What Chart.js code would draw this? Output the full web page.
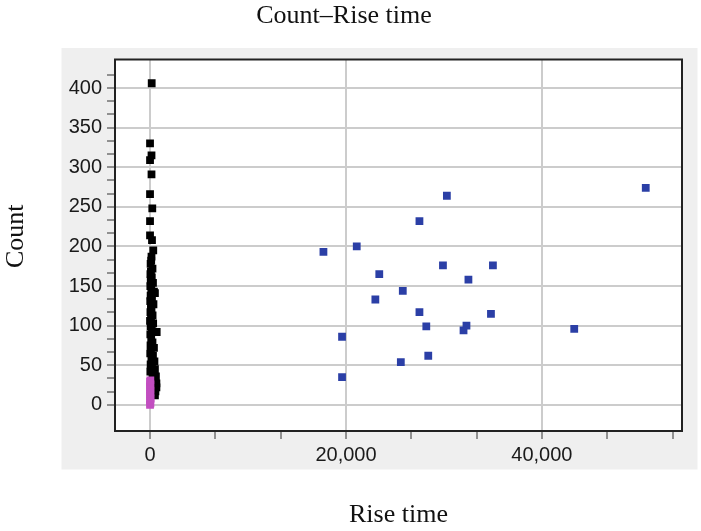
<!DOCTYPE html>
<html>
<head>
<meta charset="utf-8">
<script src="https://cdn.jsdelivr.net/npm/chart.js@4"></script>
<style>
  html, body { margin: 0; padding: 0; background: #fff; }
</style>
</head>
<body>
<canvas id="riseChart" width="701" height="531"></canvas>
<script>
// values: [rise time, count]
const blueHits = [
  [30300, 264], [27500, 232], [17700, 193], [21100, 200], [29900, 176],
  [35000, 176], [23400, 165], [32500, 158], [25800, 144], [23000, 133],
  [27500, 117], [34800, 115], [28200, 99], [32300, 100], [32000, 94],
  [19600, 86], [28400, 62], [25600, 54], [19600, 35], [50600, 274],
  [43300, 96]
];

const pinkHits = [
  [0, 0], [40, 2], [0, 5], [60, 8], [10, 11], [0, 14], [50, 17],
  [20, 20], [0, 23], [40, 26], [10, 29], [30, 31]
];

const blackHits = [
  [170, 406], [0, 330], [150, 315], [0, 309], [150, 291], [0, 266],
  [230, 248], [0, 232], [0, 214], [200, 208], [330, 195], [150, 187],
  [120, 182], [60, 178], [250, 172], [90, 168], [40, 165], [180, 161],
  [70, 157], [300, 154], [30, 150], [130, 147], [400, 143], [500, 141],
  [60, 138], [200, 134], [20, 131], [350, 127], [90, 124], [150, 120],
  [40, 117], [260, 113], [100, 110], [0, 106], [320, 103], [60, 99],
  [180, 96], [680, 92], [30, 89], [120, 82], [250, 79], [50, 75],
  [400, 72], [90, 68], [20, 65], [300, 62], [140, 58], [450, 55],
  [60, 51], [200, 48], [500, 45], [30, 42], [350, 39], [600, 36],
  [250, 33], [650, 27], [650, 22], [550, 17], [500, 12]
];

const xMajor = [0, 20000, 40000];
const yMajor = [0, 50, 100, 150, 200, 250, 300, 350, 400];
const yTitle = 'Count';

// three minor steps between major ticks, like the original
function withMinors(major, below, above) {
  const step = (major[1] - major[0]) / 3;
  const out = [];
  for (let v = major[0] - below * step; v <= major[major.length - 1] + above * step + 1e-6; v += step) {
    out.push(Math.round(v * 1000) / 1000);
  }
  return out;
}
const xTicks = withMinors(xMajor, 0, 2);
const yTicks = withMinors(yMajor, 0, 1);

const isMajor = (list, v) => list.some(m => Math.abs(m - v) < 1e-6);
const toXY = arr => arr.map(p => ({ x: p[0], y: p[1] }));

const serifFamily = '"Liberation Serif", "Times New Roman", serif';

const panelPlugin = {
  id: 'panel',
  beforeDraw(chart) {
    const { ctx, chartArea: a } = chart;
    ctx.save();
    ctx.fillStyle = '#efefef';
    ctx.fillRect(a.left - 53.5, a.top - 11.5, a.right - a.left + 69, a.bottom - a.top + 50);
    ctx.fillStyle = '#ffffff';
    ctx.fillRect(a.left, a.top, a.right - a.left, a.bottom - a.top);
    ctx.restore();
  },
  afterDraw(chart) {
    const { ctx, chartArea: a } = chart;
    ctx.save();
    ctx.strokeStyle = '#222';
    ctx.lineWidth = 2;
    ctx.strokeRect(a.left, a.top, a.right - a.left, a.bottom - a.top);
    // y axis title sits a bit above the middle in the original
    ctx.translate(16, (a.top + a.bottom) / 2 - 9);
    ctx.rotate(-Math.PI / 2);
    ctx.fillStyle = '#111';
    ctx.font = '26px ' + serifFamily;
    ctx.textAlign = 'center';
    ctx.textBaseline = 'middle';
    ctx.fillText(yTitle, 0, 0);
    ctx.restore();
  }
};

const tickFont = { family: '"Liberation Sans", Arial, sans-serif', size: 20 };
const serifFont = { family: serifFamily, size: 26, weight: 'normal' };

const riseChart = new Chart(document.getElementById('riseChart'), {
  type: 'scatter',
  data: {
    datasets: [
      { label: 'far', data: toXY(blueHits), backgroundColor: '#2b3fa6' },
      { label: 'low', data: toXY(pinkHits), backgroundColor: '#c24ec0' },
      { label: 'near', data: toXY(blackHits), backgroundColor: '#000000' }
    ]
  },
  options: {
    responsive: false,
    animation: false,
    layout: { padding: { left: 6, right: 19, top: 0, bottom: 0 } },
    elements: {
      point: { pointStyle: 'rect', radius: 5.5, borderWidth: 0, hoverRadius: 5.5 }
    },
    plugins: {
      legend: { display: false },
      tooltip: { enabled: false },
      title: {
        display: true,
        text: 'Count–Rise time',
        color: '#111',
        font: serifFont,
        padding: { top: 1, bottom: 27.3 }
      }
    },
    scales: {
      x: {
        type: 'linear',
        min: -3576,
        max: 54300,
        afterFit: s => { s.height = 100; },
        afterBuildTicks: s => { s.ticks = xTicks.map(v => ({ value: v })); },
        border: { display: false },
        grid: {
          color: c => c.tick && isMajor(xMajor, c.tick.value) ? '#cccccc' : 'rgba(0,0,0,0)',
          lineWidth: 2,
          tickColor: '#333',
          tickWidth: 1,
          tickLength: 8
        },
        ticks: {
          autoSkip: false,
          maxRotation: 0,
          padding: 4,
          color: '#1a1a1a',
          font: tickFont,
          callback: v => isMajor(xMajor, v) ? v.toLocaleString('en-US') : ''
        },
        title: { display: true, text: 'Rise time', color: '#111', font: serifFont, padding: 0 }
      },
      y: {
        type: 'linear',
        min: -33,
        max: 436,
        afterFit: s => { s.width = 109; },
        afterBuildTicks: s => { s.ticks = yTicks.map(v => ({ value: v })); },
        border: { display: false },
        grid: {
          color: c => c.tick && isMajor(yMajor, c.tick.value) ? '#cccccc' : 'rgba(0,0,0,0)',
          lineWidth: 2,
          tickColor: '#333',
          tickWidth: 1,
          tickLength: 8
        },
        ticks: {
          autoSkip: false,
          padding: 5,
          color: '#1a1a1a',
          font: tickFont,
          callback: v => isMajor(yMajor, v) ? String(v) : ''
        },
        title: { display: false }
      }
    }
  },
  plugins: [panelPlugin]
});
</script>
</body>
</html>
